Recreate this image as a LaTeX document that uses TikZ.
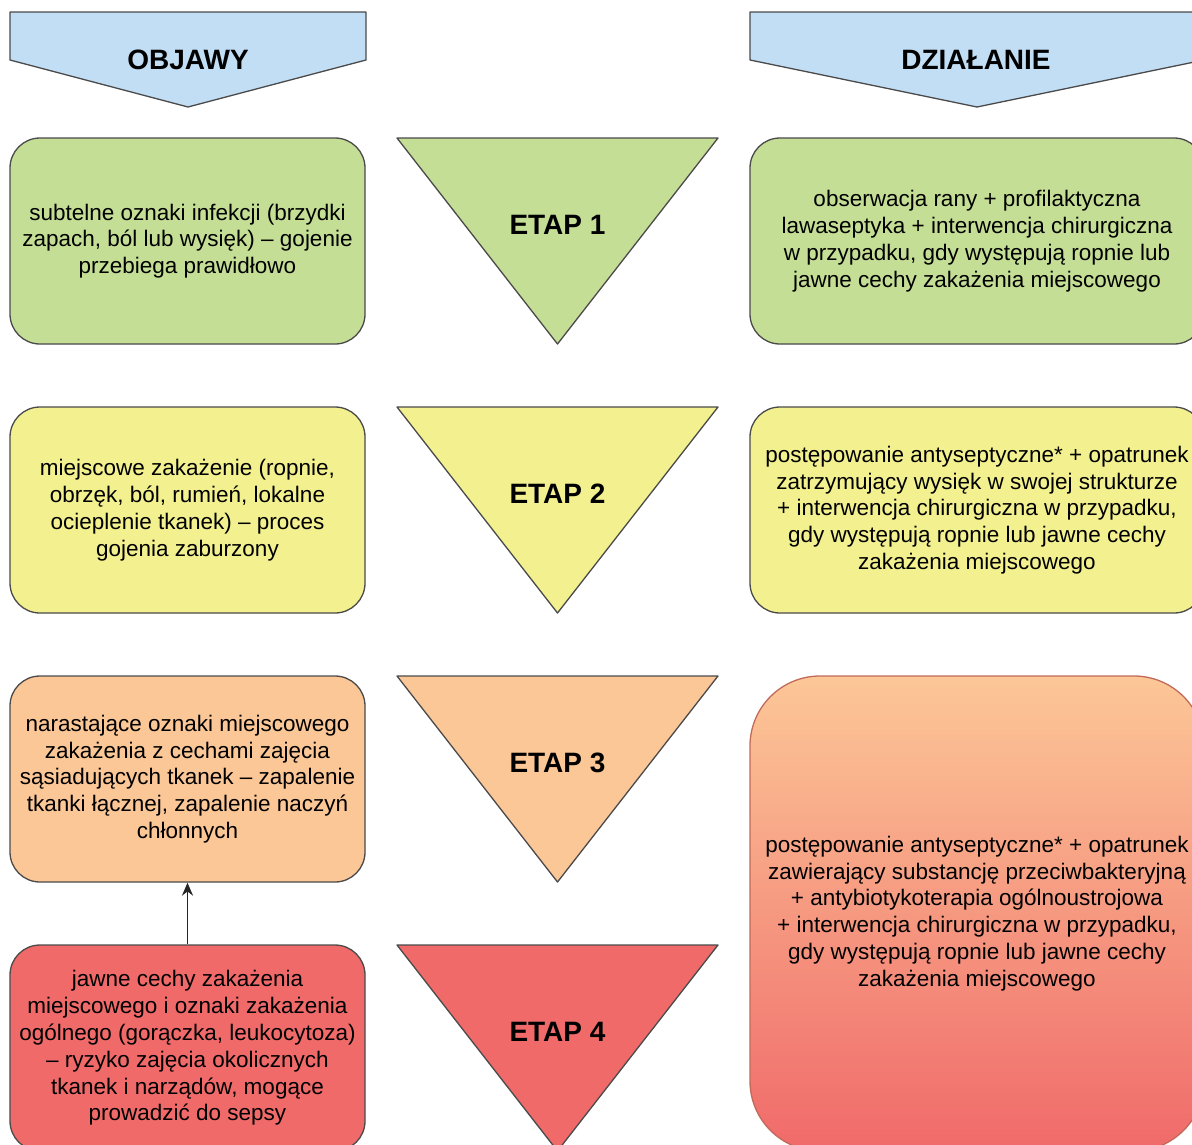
\documentclass[tikz,border=0pt]{standalone}
\usepackage{fontspec}
\setmainfont{Liberation Sans}
\usetikzlibrary{arrows.meta}

\definecolor{hdrblue}{HTML}{C2DEF5}
\definecolor{stgreen}{HTML}{C5DE95}
\definecolor{styellow}{HTML}{F3F18F}
\definecolor{storange}{HTML}{FCC797}
\definecolor{stred}{HTML}{F06A6A}
\definecolor{edge}{HTML}{4A4A4A}
\definecolor{redge}{HTML}{C06A5A}

\tikzset{
  x=1pt, y=-1pt,
  outline/.style={draw=edge, line width=1.3pt, line join=round},
  txt/.style={font=\fontsize{22.5}{26.8}\selectfont, align=center, text=black},
  hdr/.style={font=\fontsize{28}{30}\selectfont\bfseries, text=black},
  stagelbl/.style={font=\fontsize{28}{30}\selectfont\bfseries, text=black},
  leftbox/.style={outline, rounded corners=30pt, minimum width=355pt, minimum height=206pt, inner sep=0pt, txt},
  rightbox/.style={outline, rounded corners=30pt, minimum width=454pt, minimum height=206pt, inner sep=0pt, txt},
}

\begin{document}
\begin{tikzpicture}
\clip (0,0) rectangle (1192,1144);
\fill[white] (0,0) rectangle (1192,1144);

% column headers
\draw[outline, fill=hdrblue] (10,12) -- (366,12) -- (366,60) -- (188,107) -- (10,60) -- cycle;
\node[hdr] (hobjawy) at (188,60) {OBJAWY};
\draw[outline, fill=hdrblue] (750,12) -- (1204,12) -- (1204,60) -- (977,107) -- (750,60) -- cycle;
\node[hdr] (hdzialanie) at (976,60) {DZIAŁANIE};

% stage triangles
\draw[outline, fill=stgreen]  (397,138) -- (718,138) -- (557.5,344) -- cycle;
\draw[outline, fill=styellow] (397,407) -- (718,407) -- (557.5,613) -- cycle;
\draw[outline, fill=storange] (397,676) -- (718,676) -- (557.5,882) -- cycle;
\draw[outline, fill=stred]    (397,945) -- (718,945) -- (557.5,1151) -- cycle;
\node[stagelbl] (e1) at (557.5,225) {ETAP 1};
\node[stagelbl] (e2) at (557.5,494) {ETAP 2};
\node[stagelbl] (e3) at (557.5,763) {ETAP 3};
\node[stagelbl] (e4) at (557.5,1032) {ETAP 4};

% symptoms
\node[leftbox, fill=stgreen] (s1) at (187.5,241)
  {subtelne oznaki infekcji (brzydki\\zapach, ból lub wysięk) – gojenie\\przebiega prawidłowo};
\node[leftbox, fill=styellow] (s2) at (187.5,510)
  {miejscowe zakażenie (ropnie,\\obrzęk, ból, rumień, lokalne\\ocieplenie tkanek) – proces\\gojenia zaburzony};
\node[leftbox, fill=storange] (s3) at (187.5,779)
  {narastające oznaki miejscowego\\zakażenia z cechami zajęcia\\sąsiadujących tkanek – zapalenie\\tkanki łącznej, zapalenie naczyń\\chłonnych};
\node[leftbox, fill=stred] (s4) at (187.5,1048)
  {jawne cechy zakażenia\\miejscowego i oznaki zakażenia\\ogólnego (gorączka, leukocytoza)\\– ryzyko zajęcia okolicznych\\tkanek i narządów, mogące\\prowadzić do sepsy};

% actions
\node[rightbox, fill=stgreen] (a1) at (977,241)
  {obserwacja rany + profilaktyczna\\lawaseptyka + interwencja chirurgiczna\\w przypadku, gdy występują ropnie lub\\jawne cechy zakażenia miejscowego};
\node[rightbox, fill=styellow] (a2) at (977,510)
  {postępowanie antyseptyczne* + opatrunek\\zatrzymujący wysięk w swojej strukturze\\+ interwencja chirurgiczna w przypadku,\\gdy występują ropnie lub jawne cechy\\zakażenia miejscowego};
\node[draw=redge, line width=1.3pt, rounded corners=70pt, minimum width=454pt, minimum height=475pt,
      inner sep=0pt, top color=storange, bottom color=stred, txt] (a34) at (977,913.5)
  {postępowanie antyseptyczne* + opatrunek\\zawierający substancję przeciwbakteryjną\\+ antybiotykoterapia ogólnoustrojowa\\+ interwencja chirurgiczna w przypadku,\\gdy występują ropnie lub jawne cechy\\zakażenia miejscowego};

% escalation arrow
\draw[black!85, line width=1.6pt, -{Stealth[length=13pt,width=11pt]}] (s4.north) -- (s3.south);
\end{tikzpicture}
\end{document}
